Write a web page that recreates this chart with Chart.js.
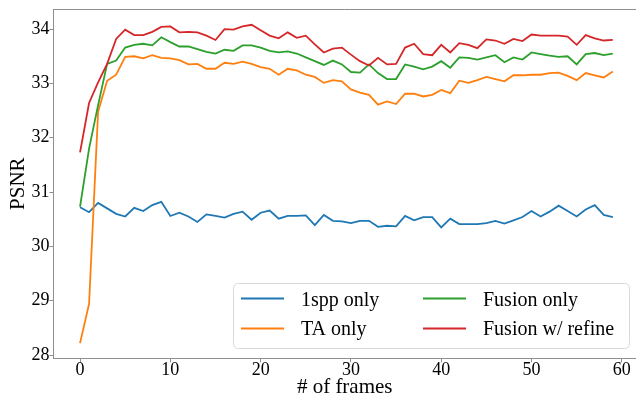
<!DOCTYPE html>
<html>
<head>
<meta charset="utf-8">
<script src="https://cdn.jsdelivr.net/npm/chart.js@4/dist/chart.umd.min.js"></script>
<style>
  html, body { margin: 0; padding: 0; background: #fff; overflow: hidden; }
  canvas { display: block; }
</style>
</head>
<body>
<canvas id="c" width="636" height="400"></canvas>
<script>
const frames = [0,1,2,3,4,5,6,7,8,9,10,11,12,13,14,15,16,17,18,19,20,21,22,23,24,25,26,27,28,29,
                30,31,32,33,34,35,36,37,38,39,40,41,42,43,44,45,46,47,48,49,50,51,52,53,54,55,56,57,58,59];

const spp1 = [30.72,30.63,30.80,30.70,30.60,30.55,30.71,30.65,30.76,30.82,
              30.56,30.62,30.55,30.45,30.59,30.56,30.53,30.60,30.64,30.49,
              30.62,30.66,30.51,30.56,30.56,30.57,30.39,30.58,30.47,30.46,
              30.43,30.47,30.47,30.36,30.38,30.37,30.56,30.48,30.54,30.54,
              30.35,30.51,30.41,30.41,30.41,30.43,30.47,30.42,30.48,30.54,
              30.65,30.55,30.64,30.75,30.65,30.55,30.68,30.76,30.58,30.54];

const taOnly = [28.22,28.94,32.48,33.05,33.16,33.49,33.50,33.46,33.52,33.47,
                33.46,33.43,33.35,33.36,33.27,33.27,33.38,33.36,33.40,33.36,
                33.30,33.27,33.16,33.27,33.24,33.16,33.12,33.01,33.06,33.04,
                32.89,32.83,32.79,32.61,32.67,32.62,32.81,32.81,32.76,32.79,
                32.88,32.82,33.05,33.01,33.06,33.12,33.08,33.04,33.15,33.15,
                33.16,33.16,33.19,33.20,33.14,33.06,33.19,33.15,33.11,33.22];

const fusionOnly = [30.73,31.80,32.60,33.36,33.42,33.66,33.71,33.73,33.70,33.85,
                    33.76,33.68,33.68,33.63,33.58,33.55,33.62,33.60,33.70,33.70,
                    33.66,33.60,33.57,33.59,33.55,33.48,33.41,33.34,33.42,33.35,
                    33.21,33.20,33.35,33.19,33.08,33.08,33.35,33.31,33.26,33.31,
                    33.41,33.29,33.48,33.47,33.44,33.48,33.52,33.39,33.48,33.44,
                    33.57,33.54,33.51,33.49,33.50,33.35,33.54,33.56,33.52,33.55];

const fusionRefine = [31.73,32.64,33.02,33.36,33.82,33.99,33.89,33.89,33.95,34.04,
                      34.05,33.94,33.95,33.94,33.88,33.80,34.00,33.99,34.05,34.08,
                      33.98,33.88,33.83,33.94,33.84,33.88,33.72,33.57,33.64,33.66,
                      33.53,33.41,33.33,33.47,33.35,33.36,33.66,33.73,33.54,33.52,
                      33.71,33.57,33.74,33.71,33.65,33.81,33.79,33.73,33.82,33.78,
                      33.90,33.88,33.88,33.88,33.86,33.71,33.89,33.83,33.79,33.80];

const seriesLabels = ['1spp only', 'TA only', 'Fusion only', 'Fusion w/ refine'];
const xTicks = [0, 10, 20, 30, 40, 50, 60];
const yTicks = [28, 29, 30, 31, 32, 33, 34];

const seriesValues = [spp1, taOnly, fusionOnly, fusionRefine];
const colors = ['#1f77b4', '#ff7f0e', '#2ca02c', '#d62728'];
const FONT = '"Liberation Serif", "Times New Roman", serif';
const SPINE = '#8f8f8f';

const datasets = seriesValues.map((vals, k) => ({
  label: seriesLabels[k],
  data: frames.map((f, i) => ({ x: f, y: vals[i] })),
  borderColor: colors[k],
  backgroundColor: colors[k],
  borderWidth: 1.8,
  pointRadius: 0,
  tension: 0,
  fill: false,
  order: 4 - k
}));

const framePlugin = {
  id: 'frameAndLegend',
  afterDraw(chart) {
    const ctx = chart.ctx;
    const a = chart.chartArea;
    ctx.save();
    // top spine
    ctx.strokeStyle = SPINE;
    ctx.lineWidth = 1;
    ctx.beginPath();
    ctx.moveTo(a.left, Math.round(a.top) + 0.5);
    ctx.lineTo(a.right, Math.round(a.top) + 0.5);
    ctx.stroke();

    // legend box
    const bx = 233.5, by = 283.5, bw = 396, bh = 65, r = 5;
    ctx.fillStyle = 'rgba(255,255,255,0.85)';
    ctx.strokeStyle = '#d8d8d8';
    ctx.lineWidth = 1;
    ctx.beginPath();
    ctx.moveTo(bx + r, by);
    ctx.lineTo(bx + bw - r, by);
    ctx.quadraticCurveTo(bx + bw, by, bx + bw, by + r);
    ctx.lineTo(bx + bw, by + bh - r);
    ctx.quadraticCurveTo(bx + bw, by + bh, bx + bw - r, by + bh);
    ctx.lineTo(bx + r, by + bh);
    ctx.quadraticCurveTo(bx, by + bh, bx, by + bh - r);
    ctx.lineTo(bx, by + r);
    ctx.quadraticCurveTo(bx, by, bx + r, by);
    ctx.closePath();
    ctx.fill();
    ctx.stroke();

    const cols = [{ lx: 241, tx: 301 }, { lx: 423, tx: 483 }];
    const rows = [{ ly: 298.5, ty: 305.5 }, { ly: 328.5, ty: 335 }];
    ctx.font = '20px ' + FONT;
    ctx.textBaseline = 'alphabetic';
    ctx.textAlign = 'left';
    chart.data.datasets.forEach((ds, k) => {
      const c = cols[Math.floor(k / 2)];
      const rw = rows[k % 2];
      ctx.strokeStyle = ds.borderColor;
      ctx.lineWidth = 2;
      ctx.beginPath();
      ctx.moveTo(c.lx, rw.ly);
      ctx.lineTo(c.lx + 43, rw.ly);
      ctx.stroke();
      ctx.fillStyle = '#000';
      ctx.fillText(ds.label, c.tx, rw.ty);
    });
    ctx.restore();
  }
};

new Chart(document.getElementById('c'), {
  type: 'line',
  data: { datasets },
  options: {
    responsive: false,
    animation: false,
    devicePixelRatio: 1,
    layout: { padding: { top: 9, left: 0, right: 0, bottom: 0 }, autoPadding: false },
    plugins: { legend: { display: false }, tooltip: { enabled: false } },
    scales: {
      x: {
        type: 'linear',
        min: -2.95,
        max: 61.57,
        afterBuildTicks: s => { s.ticks = xTicks.map(v => ({ value: v })); },
        afterFit: s => { s.height = 41.7; },
        ticks: {
          autoSkip: false, maxRotation: 0, padding: -1, color: '#000',
          font: { family: FONT, size: 18, lineHeight: 1 }
        },
        grid: { display: true, drawOnChartArea: false, drawTicks: true, tickLength: 4, tickColor: SPINE },
        border: { display: true, color: SPINE, width: 1 },
        title: {
          display: true, text: '# of frames', color: '#000',
          font: { family: FONT, size: 21, lineHeight: 1.2 },
          padding: { top: 0, bottom: 0 }
        }
      },
      y: {
        type: 'linear',
        min: 27.94,
        max: 34.37,
        afterBuildTicks: s => { s.ticks = yTicks.map(v => ({ value: v })); },
        afterFit: s => { s.width = 53.4; },
        ticks: {
          autoSkip: false, padding: 0, color: '#000',
          font: { family: FONT, size: 18, lineHeight: 1 }
        },
        grid: { display: true, drawOnChartArea: false, drawTicks: true, tickLength: 4, tickColor: SPINE },
        border: { display: true, color: SPINE, width: 1 },
        title: {
          display: true, text: 'PSNR', color: '#000',
          font: { family: FONT, size: 21, lineHeight: 1.2 },
          padding: { top: 6, bottom: 0 }
        }
      }
    }
  },
  plugins: [framePlugin]
});
</script>
</body>
</html>
